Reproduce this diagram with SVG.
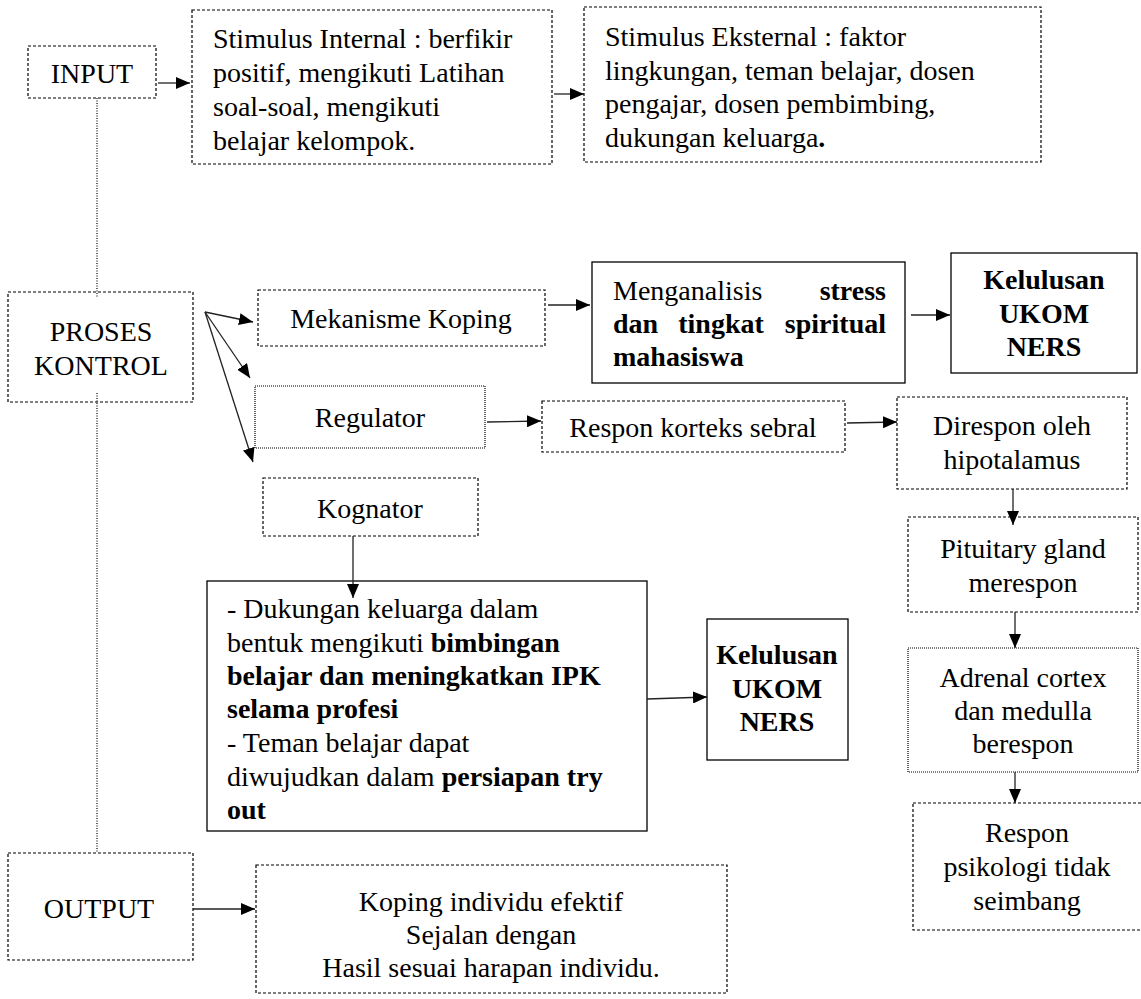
<svg xmlns="http://www.w3.org/2000/svg" width="1141" height="999" viewBox="0 0 1141 999">
<style>
text{font-family:"Liberation Serif","Times New Roman",serif;font-size:28px;fill:#000}
.b{font-weight:bold}
.c{text-anchor:middle}
.e{text-anchor:end}
.dash{fill:#fff;stroke:#000;stroke-width:1.2;stroke-dasharray:3 2}
.dot{fill:#fff;stroke:#000;stroke-width:1.2;stroke-dasharray:1 1}
.solid{fill:#fff;stroke:#000;stroke-width:1.3}
.ln{stroke:#222;stroke-width:1.3;fill:none}
.vl{stroke:#000;stroke-width:1.2;stroke-dasharray:1 1.5;fill:none}
</style>
<defs>
<marker id="ah" markerUnits="userSpaceOnUse" markerWidth="14" markerHeight="12" refX="14" refY="6" orient="auto">
<path d="M0,0 L14,6 L0,12 z" fill="#000"/>
</marker>
</defs>
<rect width="1141" height="999" fill="#fff"/>

<g id="input">
<rect class="dash" x="28" y="46" width="128" height="52"/>
<text class="c" x="92" y="83">INPUT</text>
</g>

<g id="stimulus-internal">
<rect class="dash" x="192" y="10" width="360" height="154"/>
<text x="213" y="48">Stimulus Internal : berfikir</text>
<text x="213" y="82">positif, mengikuti Latihan</text>
<text x="213" y="116">soal-soal, mengikuti</text>
<text x="213" y="150">belajar kelompok.</text>
</g>

<g id="stimulus-eksternal">
<rect class="dash" x="584" y="7" width="457" height="155"/>
<text x="605" y="46">Stimulus Eksternal : faktor</text>
<text x="605" y="80">lingkungan, teman belajar, dosen</text>
<text x="605" y="113">pengajar, dosen pembimbing,</text>
<text x="605" y="147">dukungan keluarga<tspan class="b">.</tspan></text>
</g>

<g id="proses-kontrol">
<rect class="dash" x="8" y="292" width="185" height="110"/>
<text class="c" x="101" y="341">PROSES</text>
<text class="c" x="101" y="375">KONTROL</text>
</g>

<g id="mekanisme-koping">
<rect class="dash" x="258" y="290" width="287" height="56"/>
<text class="c" x="401" y="328">Mekanisme Koping</text>
</g>

<g id="menganalisis">
<rect class="solid" x="592" y="262" width="313" height="121"/>
<text x="613" y="300">Menganalisis</text>
<text class="b e" x="886" y="300">stress</text>
<text class="b" x="613" y="333">dan</text>
<text class="b c" x="721" y="333">tingkat</text>
<text class="b e" x="886" y="333">spiritual</text>
<text class="b" x="613" y="366">mahasiswa</text>
</g>

<g id="kelulusan-1">
<rect class="solid" x="951" y="253" width="186" height="120"/>
<text class="b c" x="1044" y="289">Kelulusan</text>
<text class="b c" x="1044" y="323">UKOM</text>
<text class="b c" x="1044" y="356">NERS</text>
</g>

<g id="regulator">
<rect class="dot" x="255" y="386" width="230" height="62"/>
<text class="c" x="370" y="427">Regulator</text>
</g>

<g id="respon-korteks">
<rect class="dash" x="542" y="401" width="303" height="51"/>
<text class="c" x="693" y="437">Respon korteks sebral</text>
</g>

<g id="direspon-hipotalamus">
<rect class="dash" x="897" y="397" width="230" height="92"/>
<text class="c" x="1012" y="435">Direspon oleh</text>
<text class="c" x="1012" y="469">hipotalamus</text>
</g>

<g id="pituitary">
<rect class="dash" x="908" y="517" width="230" height="95"/>
<text class="c" x="1023" y="558">Pituitary gland</text>
<text class="c" x="1023" y="592">merespon</text>
</g>

<g id="adrenal">
<rect class="dot" x="908" y="648" width="230" height="124"/>
<text class="c" x="1023" y="687">Adrenal cortex</text>
<text class="c" x="1023" y="720">dan medulla</text>
<text class="c" x="1023" y="753">berespon</text>
</g>

<g id="respon-psikologi">
<rect class="dash" x="913" y="803" width="230" height="127"/>
<text class="c" x="1027" y="842">Respon</text>
<text class="c" x="1027" y="876">psikologi tidak</text>
<text class="c" x="1027" y="910">seimbang</text>
</g>

<g id="kognator">
<rect class="dash" x="263" y="478" width="215" height="58"/>
<text class="c" x="370" y="518">Kognator</text>
</g>

<g id="dukungan">
<rect class="solid" x="207" y="581" width="440" height="250"/>
<text x="227" y="618">- Dukungan keluarga dalam</text>
<text x="227" y="652">bentuk mengikuti <tspan class="b">bimbingan</tspan></text>
<text class="b" x="227" y="685">belajar dan meningkatkan IPK</text>
<text class="b" x="227" y="718">selama profesi</text>
<text x="227" y="752">- Teman belajar dapat</text>
<text x="227" y="786">diwujudkan dalam <tspan class="b">persiapan try</tspan></text>
<text class="b" x="227" y="819">out</text>
</g>

<g id="kelulusan-2">
<rect class="solid" x="707" y="619" width="141" height="141"/>
<text class="b c" x="777" y="664">Kelulusan</text>
<text class="b c" x="777" y="698">UKOM</text>
<text class="b c" x="777" y="731">NERS</text>
</g>

<g id="output">
<rect class="dash" x="8" y="853" width="185" height="107"/>
<text class="c" x="99" y="918">OUTPUT</text>
</g>

<g id="output-result">
<rect class="dash" x="256" y="865" width="471" height="128"/>
<text class="c" x="491" y="911">Koping individu efektif</text>
<text class="c" x="491" y="944">Sejalan dengan</text>
<text class="c" x="491" y="977">Hasil sesuai harapan individu.</text>
</g>

<g id="connectors">
<line class="vl" x1="97" y1="98" x2="97" y2="298"/>
<line class="vl" x1="97" y1="393" x2="97" y2="853"/>
<line class="ln" x1="158" y1="83" x2="190" y2="83" marker-end="url(#ah)"/>
<line class="ln" x1="554" y1="94" x2="584" y2="94" marker-end="url(#ah)"/>
<line class="ln" x1="205" y1="312" x2="253" y2="322" marker-end="url(#ah)"/>
<line class="ln" x1="205" y1="312" x2="250" y2="378" marker-end="url(#ah)"/>
<line class="ln" x1="205" y1="312" x2="253" y2="462" marker-end="url(#ah)"/>
<line class="ln" x1="548" y1="305" x2="590" y2="305" marker-end="url(#ah)"/>
<line class="ln" x1="911" y1="315" x2="950" y2="315" marker-end="url(#ah)"/>
<line class="ln" x1="487" y1="422" x2="541" y2="421" marker-end="url(#ah)"/>
<line class="ln" x1="847" y1="423" x2="897" y2="422" marker-end="url(#ah)"/>
<line class="ln" x1="1013" y1="489" x2="1013" y2="525" marker-end="url(#ah)"/>
<line class="ln" x1="1015" y1="612" x2="1015" y2="648" marker-end="url(#ah)"/>
<line class="ln" x1="1015" y1="772" x2="1015" y2="803" marker-end="url(#ah)"/>
<line class="ln" x1="353" y1="536" x2="353" y2="598" marker-end="url(#ah)"/>
<line class="ln" x1="647" y1="699" x2="707" y2="697" marker-end="url(#ah)"/>
<line class="ln" x1="193" y1="909" x2="255" y2="909" marker-end="url(#ah)"/>
</g>
</svg>
